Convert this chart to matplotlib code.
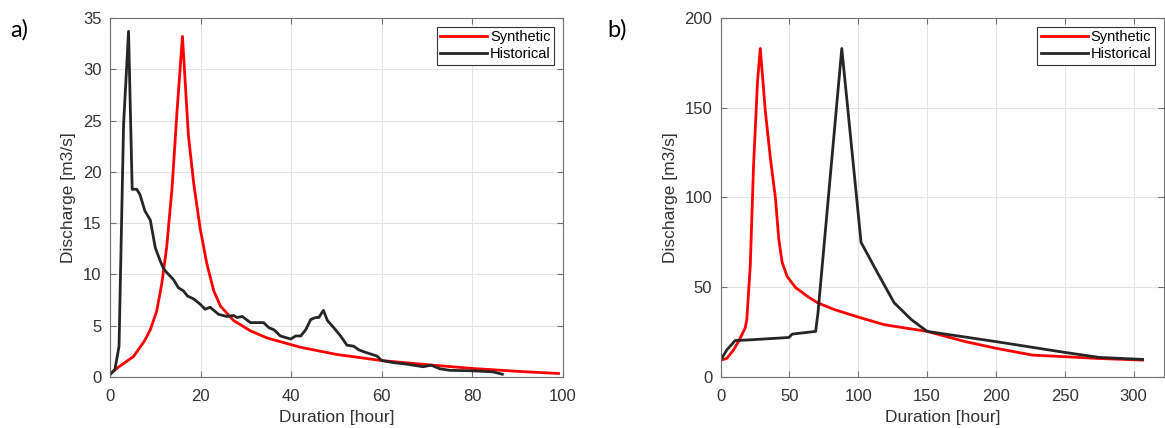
import matplotlib
matplotlib.use('Agg')
import matplotlib.pyplot as plt

plt.rcParams['font.family'] = ['Liberation Sans', 'DejaVu Sans']

# a) synthetic vs historical hydrograph
xa_syn = [0, 2, 5.2, 7.6, 8.9, 10.3, 11.4, 12.5, 13.7, 14.8, 16, 17.3, 18.5, 19.9,
          21.4, 22.9, 24.4, 27.3, 31, 34.7, 42, 50, 60, 70, 80, 90, 99]
ya_syn = [0.3, 1.0, 2.0, 3.5, 4.6, 6.4, 9.0, 12.6, 18.4, 25.9, 33.2, 23.6, 18.8, 14.5,
          11.0, 8.4, 6.9, 5.5, 4.5, 3.8, 2.9, 2.2, 1.6, 1.2, 0.83, 0.55, 0.34]

xa_his = [0.2, 1.1, 2.0, 3.0, 4.1, 4.9, 5.9, 6.6, 7.7, 8.9, 10.0, 11.1, 11.8, 12.5,
          14.0, 15.1, 16.2, 17.1, 18.5, 19.9, 21.0, 22.1, 24.0, 25.8, 27.3, 28.0,
          29.2, 31.0, 33.9, 35.1, 36.2, 37.6, 39.9, 41.0, 42.1, 43.2, 44.3, 45.4,
          46.1, 47.1, 48.0, 49.4, 50.9, 52.3, 53.8, 54.9, 56.4, 58.9, 60.0, 62.6,
          65.5, 69.1, 70.9, 72.8, 75.0, 80.1, 84.5, 86.6]
ya_his = [0.3, 0.75, 3.0, 24.6, 33.7, 18.3, 18.3, 17.8, 16.2, 15.3, 12.6, 11.3, 10.6, 10.2,
          9.5, 8.7, 8.4, 7.9, 7.6, 7.1, 6.6, 6.8, 6.1, 5.9, 6.0, 5.8,
          5.9, 5.3, 5.3, 4.8, 4.6, 4.0, 3.7, 4.0, 4.0, 4.6, 5.6, 5.8,
          5.8, 6.5, 5.5, 4.8, 4.0, 3.1, 3.0, 2.65, 2.4, 2.05, 1.6, 1.4,
          1.25, 1.0, 1.15, 0.8, 0.65, 0.6, 0.5, 0.27]

# b)
xb_syn = [0, 4.4, 9.3, 12.9, 15.4, 17.8, 19, 21.5, 23.9, 26.8, 28.8, 32.4, 36.1, 39.8,
          42.2, 44.6, 48.3, 54.4, 62.9, 70.2, 82.4, 102, 119, 150, 177.8, 200, 226.5,
          250, 275, 306.5]
yb_syn = [9.4, 10.3, 15, 19.7, 23.5, 27.3, 32, 62, 118, 165, 183, 148.5, 122, 99.6,
          77, 64, 56, 49.8, 45, 41.4, 37.6, 32.9, 29.1, 25.4, 19.7, 16, 12.2,
          11.3, 10.3, 9.4]

xb_his = [0, 4.4, 10.5, 21.5, 49.5, 52, 69, 70.7, 88, 102, 114, 126, 138.5, 150,
          200, 250, 275, 306.5]
yb_his = [9.4, 15, 20.3, 20.7, 22, 23.9, 25.4, 35.7, 183, 75, 58, 41.4, 32, 25.4,
          19.7, 13.7, 10.9, 9.8]

fig = plt.figure(figsize=(11.65, 4.28), dpi=100)
ax1 = fig.add_axes([0.0944, 0.1192, 0.3889, 0.8388])
ax2 = fig.add_axes([0.6186, 0.1192, 0.3804, 0.8388])

def style(ax):
    ax.grid(True, color='#e3e3e3', linewidth=0.8)
    ax.set_axisbelow(True)
    for s in ax.spines.values():
        s.set_color('#707070')
        s.set_linewidth(0.8)
    ax.tick_params(direction='in', top=True, right=True, length=4,
                   color='#707070', labelsize=12, labelcolor='#333333')
    ax.tick_params(axis='x', pad=9)
    ax.tick_params(axis='y', pad=6)
    ax.set_xlabel('Duration [hour]', fontsize=12.5, color='#333333', labelpad=4)
    ax.set_ylabel('Discharge [m3/s]', fontsize=12.5, color='#333333', labelpad=5)
    leg = ax.legend(loc='upper right', fontsize=10.5, fancybox=False, framealpha=1,
                    edgecolor='#333333', handlelength=3.2, handletextpad=0.2,
                    borderpad=0.25, labelspacing=0.2, borderaxespad=0.6)
    leg.get_frame().set_linewidth(0.8)

ax1.plot(xa_syn, ya_syn, color='#ff0000', lw=2, label='Synthetic')
ax1.plot(xa_his, ya_his, color='#262626', lw=2, label='Historical')
ax1.set_xlim(0, 100)
ax1.set_ylim(0, 35)
ax1.set_xticks([0, 20, 40, 60, 80, 100])
ax1.set_yticks([0, 5, 10, 15, 20, 25, 30, 35])
style(ax1)

ax2.plot(xb_syn, yb_syn, color='#ff0000', lw=2, label='Synthetic')
ax2.plot(xb_his, yb_his, color='#262626', lw=2, label='Historical')
ax2.set_xlim(0, 322)
ax2.set_ylim(0, 200)
ax2.set_xticks([0, 50, 100, 150, 200, 250, 300])
ax2.set_yticks([0, 50, 100, 150, 200])
style(ax2)

fig.text(0.009, 0.93, 'a)', fontsize=17, family='Lato', va='center')
fig.text(0.521, 0.93, 'b)', fontsize=17, family='Lato', va='center')

fig.savefig('out.png', dpi=100)
